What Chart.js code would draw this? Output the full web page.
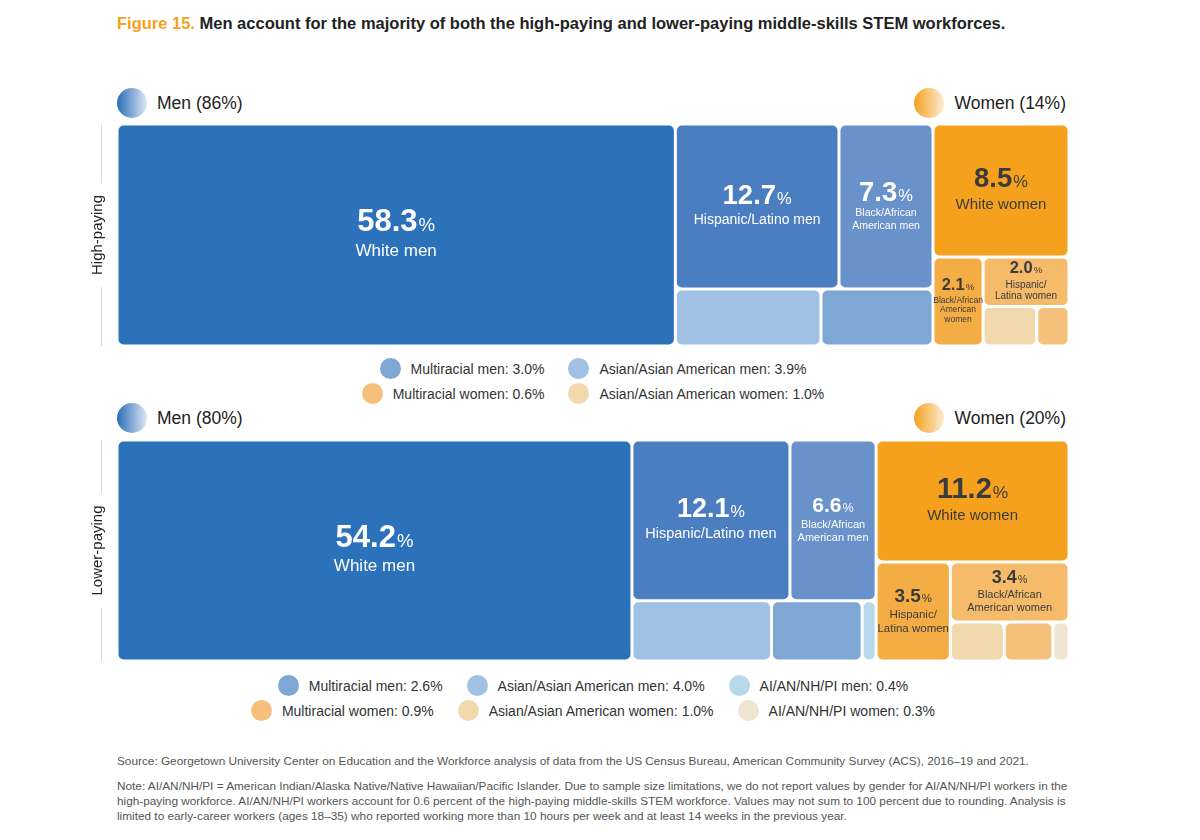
<!DOCTYPE html>
<html lang="en">
<head>
<meta charset="UTF-8">
<title>Figure 15. Middle-skills STEM workforces by gender and race/ethnicity</title>
<script src="https://cdn.jsdelivr.net/npm/chart.js"></script>
<style>
  body { margin: 0; width: 1200px; height: 840px; position: relative; overflow: hidden;
         font-family: "Liberation Sans", Arial, sans-serif; color: #222; background: #fff; }
  .title { position: absolute; left: 117px; top: 14px; font-size: 16.5px; font-weight: bold; white-space: nowrap; }
  .title span { color: #f5a11e; }
  .head { position: absolute; height: 30px; font-size: 17.5px; display: flex; align-items: center; }
  .head .dot { width: 30px; height: 30px; border-radius: 50%; margin-right: 10px; }
  .men .dot { background: linear-gradient(to right, #2a6db8, #dfe7f3); }
  .women .dot { background: linear-gradient(to right, #f5a11e, #fdebd3); }
  .panel { position: absolute; left: 80px; width: 989px; }
  .legend { position: absolute; left: 117px; width: 952px; font-size: 14px; color: #333; }
  .legend .row { display: flex; justify-content: center; gap: 24px; height: 25px; align-items: center; }
  .legend .item { display: flex; align-items: center; white-space: nowrap; }
  .legend .sw { width: 21px; height: 21px; border-radius: 50%; margin-right: 10px; }
  .notes { position: absolute; left: 117px; top: 754px; font-size: 11.8px; color: #555; line-height: 15px; white-space: nowrap; }
  .notes p { margin: 0 0 10px 0; }
</style>
</head>
<body>
  <div class="title"><span>Figure 15.</span> Men account for the majority of both the high-paying and lower-paying middle-skills STEM workforces.</div>

  <div class="head men" style="left:117px; top:88px;"><div class="dot"></div><span id="highMen"></span></div>
  <div class="head women" style="right:134px; top:88px;"><div class="dot"></div><span id="highWomen"></span></div>
  <div class="panel" style="top:124px; height:222px;"><canvas id="highChart"></canvas></div>
  <div class="legend" id="highLegend" style="top:356px;"></div>

  <div class="head men" style="left:117px; top:403px;"><div class="dot"></div><span id="lowMen"></span></div>
  <div class="head women" style="right:134px; top:403px;"><div class="dot"></div><span id="lowWomen"></span></div>
  <div class="panel" style="top:440px; height:221px;"><canvas id="lowChart"></canvas></div>
  <div class="legend" id="lowLegend" style="top:673px;"></div>

  <div class="notes">
    <p>Source: Georgetown University Center on Education and the Workforce analysis of data from the US Census Bureau, American Community Survey (ACS), 2016–19 and 2021.</p>
    <p>Note: AI/AN/NH/PI = American Indian/Alaska Native/Native Hawaiian/Pacific Islander. Due to sample size limitations, we do not report values by gender for AI/AN/NH/PI workers in the<br>high-paying workforce. AI/AN/NH/PI workers account for 0.6 percent of the high-paying middle-skills STEM workforce. Values may not sum to 100 percent due to rounding. Analysis is<br>limited to early-career workers (ages 18–35) who reported working more than 10 hours per week and at least 14 weeks in the previous year.</p>
  </div>

<script>
// ---- data ----
const highCategories = ['White men', 'Hispanic/Latino men', 'Black/African American men', 'Asian/Asian American men', 'Multiracial men',
                        'White women', 'Black/African American women', 'Hispanic/Latina women', 'Asian/Asian American women', 'Multiracial women'];
const highValues = [58.3, 12.7, 7.3, 3.9, 3.0, 8.5, 2.1, 2.0, 1.0, 0.6];
const highShares = [86, 14];

const lowCategories = ['White men', 'Hispanic/Latino men', 'Black/African American men', 'Asian/Asian American men', 'Multiracial men', 'AI/AN/NH/PI men',
                       'White women', 'Hispanic/Latina women', 'Black/African American women', 'Asian/Asian American women', 'Multiracial women', 'AI/AN/NH/PI women'];
const lowValues = [54.2, 12.1, 6.6, 4.0, 2.6, 0.4, 11.2, 3.5, 3.4, 1.0, 0.9, 0.3];
const lowShares = [80, 20];

// nesting of the tiles: 'h' = side by side, 'v' = stacked; numbers are category indexes
const highTree = ['h', ['h', 0, ['v', ['h', 1, 2], ['h', 3, 4]]], ['v', 5, ['h', 6, ['v', 7, ['h', 8, 9]]]]];
const lowTree = ['h', ['h', 0, ['v', ['h', 1, 2], ['h', 3, 4, 5]]], ['v', 6, ['h', 7, ['v', 8, ['h', 9, 10, 11]]]]];

// categories listed under each panel instead of inside a tile
const highLegendRows = [[4, 3], [9, 8]];
const lowLegendRows = [[4, 3, 5], [10, 9, 11]];

// ---- styles ----
const highColors = ['#2b72ba', '#4b7ec1', '#6992ca', '#a0c1e3', '#7ea7d6', '#f5a11e', '#f4ad45', '#f5bb6b', '#f2d8ad', '#f4c07c'];
const lowColors = ['#2b72ba', '#4b7ec1', '#6992ca', '#a0c1e3', '#7ea7d6', '#b8d8eb', '#f5a11e', '#f4ad45', '#f5bb6b', '#f2d8ad', '#f4c07c', '#efe4d0'];
const highTileText = [['White men'], ['Hispanic/Latino men'], ['Black/African', 'American men'], null, null,
                      ['White women'], ['Black/African', 'American', 'women'], ['Hispanic/', 'Latina women'], null, null];
const lowTileText = [['White men'], ['Hispanic/Latino men'], ['Black/African', 'American men'], null, null, null,
                     ['White women'], ['Hispanic/', 'Latina women'], ['Black/African', 'American women'], null, null, null];
const highNumSize = [31, 27.5, 27.5, 0, 0, 27.5, 16.5, 16.5, 0, 0];
const highNameSize = [17, 14, 10.5, 0, 0, 15, 8.5, 10, 0, 0];
const lowNumSize = [31, 27, 21, 0, 0, 0, 29, 19, 18, 0, 0, 0];
const lowNameSize = [17, 14.5, 11, 0, 0, 0, 15, 11.5, 11, 0, 0, 0];

const FONT = '"Liberation Sans", Arial, sans-serif';
Chart.defaults.font.family = FONT;

function nodeSum(values, n) {
  return typeof n === 'number' ? values[n] : n.slice(1).reduce((s, c) => s + nodeSum(values, c), 0);
}
function layout(values, n, x0, x1, y0, y1, out) {
  if (typeof n === 'number') { out[n] = { x0, x1, y0, y1 }; return out; }
  const tot = nodeSum(values, n);
  let pos = n[0] === 'h' ? x0 : y0;
  n.slice(1).forEach(c => {
    const f = nodeSum(values, c) / tot;
    if (n[0] === 'h') { const w = (x1 - x0) * f; layout(values, c, pos, pos + w, y0, y1, out); pos += w; }
    else { const h = (y1 - y0) * f; layout(values, c, x0, x1, pos, pos + h, out); pos += h; }
  });
  return out;
}

function tilePlugin(cfg) {
  return {
    id: 'tiles',
    afterDatasetsDraw(chart) {
      const ctx = chart.ctx, xs = chart.scales.x, ys = chart.scales.y;
      const total = nodeSum(cfg.values, cfg.tree);
      const rects = layout(cfg.values, cfg.tree, 0, total, 0, 1, []);
      const g = 1.5;
      ctx.save();
      rects.forEach((r, i) => {
        const left = xs.getPixelForValue(r.x0) + g, right = xs.getPixelForValue(r.x1) - g;
        const top = ys.getPixelForValue(r.y0) + g, bottom = ys.getPixelForValue(r.y1) - g;
        const w = right - left, h = bottom - top;
        const rad = Math.max(0, Math.min(5, w / 2, h / 2));
        ctx.fillStyle = cfg.colors[i];
        ctx.beginPath();
        ctx.roundRect(left, top, w, h, rad);
        ctx.fill();

        const lines = cfg.text[i];
        if (!lines) return;
        const ns = cfg.numSize[i], ms = cfg.nameSize[i];
        const cap = ns * 0.72, gap = ms * 0.6, lh = ms * 1.15;
        const blockH = cap + gap + lines.length * lh;
        const cx = (left + right) / 2, cy = (top + bottom) / 2;
        const base = cy - blockH / 2 + cap;
        const num = cfg.values[i].toFixed(1);
        const dark = i >= cfg.firstWoman;
        const pctSize = ns * 0.6;
        ctx.fillStyle = dark ? '#3b3b3b' : '#ffffff';
        ctx.textBaseline = 'alphabetic';
        ctx.textAlign = 'left';
        ctx.font = 'bold ' + ns + 'px ' + FONT;
        const wNum = ctx.measureText(num).width;
        ctx.font = pctSize + 'px ' + FONT;
        const wPct = ctx.measureText('%').width;
        const sx = cx - (wNum + 1 + wPct) / 2;
        ctx.font = 'bold ' + ns + 'px ' + FONT;
        ctx.fillText(num, sx, base);
        ctx.font = pctSize + 'px ' + FONT;
        ctx.fillText('%', sx + wNum + 1, base);
        ctx.font = ms + 'px ' + FONT;
        ctx.textAlign = 'center';
        ctx.textBaseline = 'middle';
        lines.forEach((t, k) => ctx.fillText(t, cx, base + gap + lh * (k + 0.5)));
      });
      ctx.restore();
    },
    afterDraw(chart) {
      // faint rule beside the rotated panel label
      const ctx = chart.ctx, a = chart.chartArea;
      const x = Math.round(a.left - 16) + 0.5;
      ctx.save();
      ctx.font = '15px ' + FONT;
      const half = ctx.measureText(cfg.axisTitle).width / 2 + 12;
      const mid = (a.top + a.bottom) / 2;
      ctx.strokeStyle = '#dcdcdc';
      ctx.lineWidth = 1;
      ctx.beginPath();
      ctx.moveTo(x, a.top); ctx.lineTo(x, mid - half);
      ctx.moveTo(x, mid + half); ctx.lineTo(x, a.bottom);
      ctx.stroke();
      ctx.restore();
    }
  };
}

function makeChart(id, cfg) {
  const total = nodeSum(cfg.values, cfg.tree);
  return new Chart(document.getElementById(id), {
    type: 'scatter',
    data: { datasets: [] },
    options: {
      responsive: true,
      maintainAspectRatio: false,
      animation: false,
      layout: { padding: 0 },
      plugins: { legend: { display: false }, tooltip: { enabled: false } },
      scales: {
        x: { type: 'linear', min: 0, max: total, display: false },
        y: {
          type: 'linear', min: 0, max: 1, reverse: true,
          grid: { display: false }, border: { display: false }, ticks: { display: false },
          title: { display: true, text: cfg.axisTitle, color: '#222', font: { size: 15 }, padding: { top: 9, bottom: 0 } },
          afterFit: s => { s.width = 37; }
        }
      }
    },
    plugins: [tilePlugin(cfg)]
  });
}

function buildLegend(id, rows, cats, vals, colors) {
  const el = document.getElementById(id);
  rows.forEach(r => {
    const row = document.createElement('div');
    row.className = 'row';
    r.forEach(i => {
      const item = document.createElement('div');
      item.className = 'item';
      item.innerHTML = '<div class="sw" style="background:' + colors[i] + '"></div>' + cats[i] + ': ' + vals[i].toFixed(1) + '%';
      row.appendChild(item);
    });
    el.appendChild(row);
  });
}

document.getElementById('highMen').textContent = 'Men (' + highShares[0] + '%)';
document.getElementById('highWomen').textContent = 'Women (' + highShares[1] + '%)';
document.getElementById('lowMen').textContent = 'Men (' + lowShares[0] + '%)';
document.getElementById('lowWomen').textContent = 'Women (' + lowShares[1] + '%)';

makeChart('highChart', { values: highValues, tree: highTree, colors: highColors, text: highTileText,
  numSize: highNumSize, nameSize: highNameSize, firstWoman: 5, axisTitle: 'High-paying' });
makeChart('lowChart', { values: lowValues, tree: lowTree, colors: lowColors, text: lowTileText,
  numSize: lowNumSize, nameSize: lowNameSize, firstWoman: 6, axisTitle: 'Lower-paying' });

buildLegend('highLegend', highLegendRows, highCategories, highValues, highColors);
buildLegend('lowLegend', lowLegendRows, lowCategories, lowValues, lowColors);
</script>
</body>
</html>
